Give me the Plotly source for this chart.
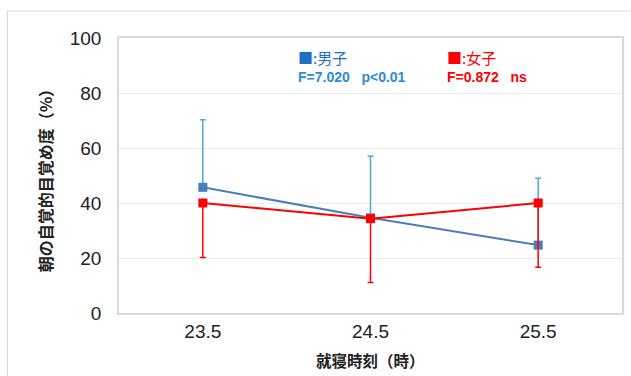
import plotly.graph_objects as go

# Bedtime categories (hours) and mean morning alertness (%)
bedtimes = ["23.5", "24.5", "25.5"]
male_mean = [45.7, 34.6, 24.7]
male_err_up = [24.6, 22.4, 24.3]
female_mean = [40.0, 34.3, 40.0]
female_err_down = [19.8, 23.2, 23.4]

male_label = "■:男子"
male_stat = "F=7.020   p<0.01"
female_label = "■:女子"
female_stat = "F=0.872   ns"

W, H = 631, 376
L, R, T, B = 119, 7, 38, 63
pw, ph = W - L - R, H - T - B


def px_x(px):
    return (px - L) / pw


def px_y(py):
    return (H - B - py) / ph


num_font = "Liberation Sans, Arial, sans-serif"
jp_font = "Noto Sans CJK JP, sans-serif"

fig = go.Figure()

fig.add_trace(go.Scatter(
    x=bedtimes, y=male_mean, mode="lines+markers",
    line=dict(color="#4a7ebb", width=2),
    marker=dict(symbol="square", size=9, color="#4a7ebb"),
    error_y=dict(type="data", symmetric=False, array=male_err_up,
                 arrayminus=[0, 0, 0], color="#4bacc6", thickness=1.5, width=3),
    showlegend=False,
))
fig.add_trace(go.Scatter(
    x=bedtimes, y=female_mean, mode="lines+markers",
    line=dict(color="#ff0000", width=2),
    marker=dict(symbol="square", size=9, color="#ff0000"),
    error_y=dict(type="data", symmetric=False, array=[0, 0, 0],
                 arrayminus=female_err_down, color="#ff0000", thickness=1.5, width=3),
    showlegend=False,
))

annotations = [
    dict(text=male_label, x=px_x(297), y=px_y(57), font=dict(size=15, color="#1f6fc5", family=jp_font)),
    dict(text="<b>" + male_stat + "</b>", x=px_x(297), y=px_y(77), font=dict(size=14, color="#2e8bd8", family=num_font)),
    dict(text=female_label, x=px_x(446), y=px_y(57), font=dict(size=15, color="#ff0000", family=jp_font)),
    dict(text="<b>" + female_stat + "</b>", x=px_x(446), y=px_y(77), font=dict(size=14, color="#ff0000", family=num_font)),
]
for a in annotations:
    a.update(xref="paper", yref="paper", xanchor="left", yanchor="middle", showarrow=False)

# Axis titles
annotations.append(dict(text="<b>就寝時刻（時）</b>", xref="paper", yref="paper",
                        x=px_x(372), y=px_y(360), showarrow=False,
                        xanchor="center", yanchor="middle",
                        font=dict(size=15.5, color="#222222", family=jp_font)))
annotations.append(dict(text="<b>朝の自覚的目覚め度（%）</b>", xref="paper", yref="paper",
                        x=px_x(45), y=px_y(177), showarrow=False, textangle=-90,
                        xanchor="center", yanchor="middle",
                        font=dict(size=16, color="#222222", family=jp_font)))

fig.update_layout(
    width=W, height=H,
    margin=dict(l=L, r=R, t=T, b=B),
    paper_bgcolor="white", plot_bgcolor="white",
    annotations=annotations,
    shapes=[dict(type="rect", xref="paper", yref="paper",
                 x0=px_x(7), x1=px_x(660), y0=px_y(400), y1=px_y(11),
                 line=dict(color="#d9d9d9", width=1.2), layer="below")],
)
fig.update_xaxes(
    type="category", range=[-0.5, 2.5],
    showline=True, linecolor="#d9d9d9", linewidth=1.5, mirror=True,
    showgrid=False, ticks="", ticklabelstandoff=0,
    tickfont=dict(size=19, color="#222222", family=num_font),
)
fig.update_yaxes(
    range=[0, 100], dtick=20,
    showline=True, linecolor="#d9d9d9", linewidth=1.5, mirror=True,
    showgrid=True, gridcolor="#ececec", gridwidth=1, zeroline=False,
    ticks="", ticklabelstandoff=12,
    tickfont=dict(size=19, color="#222222", family=num_font),
)

fig.write_html("out.html")
